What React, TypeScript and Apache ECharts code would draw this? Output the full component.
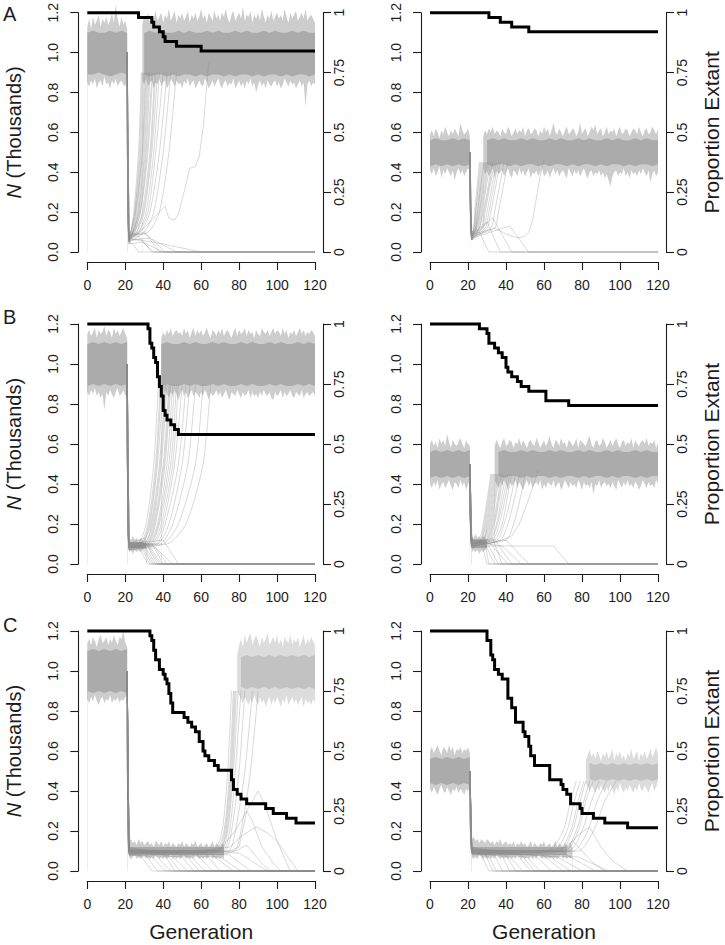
import React, { useEffect, useRef } from "react";
import * as echarts from "echarts";

// ================= DATA (values in hundredths of thousands where noted) =================
// ---- Panel A (left): K = 1.0 ----
const A1_K = 1.0;
const A1_preHi = [113,117,112,118,114,116,119,113,117,115,118,114,116,120,115,124,117,113,118,114,116,112];
const A1_preLo = [85,83,86,84,87,82,85,86,83,88,84,85,82,86,84,87,83,85,86,84,83,87];
const A1_preCoreHi = [110,111,110,110,111,110,111,110];
const A1_preCoreLo = [89,89,90,89,88,89,90,89];
const A1_postHi = [114,118,116,120,115,119,117,121,116,118,120,115,119,117,122,116,118,121,115,119,117,120,116,118,121,115,119,117,120,116,118,122,117,119,115,120,118,116,121,117,119,116,120,118,122,117,115,119,121,116,118,120,117,123,116,119,118,121,115,119,117,120,116,122,118,115,119,117,121,116,118,120,117,119,116,122,118,115,120,117,119,121,116,118,120,117,122,116,118,119,117,115];
const A1_postLo = [86,84,87,83,85,86,82,85,84,87,83,85,86,82,84,87,85,83,86,84,85,82,86,84,87,83,85,86,82,84,86,84,83,87,85,82,84,86,83,85,87,84,82,85,86,83,85,84,87,82,84,86,83,85,82,86,84,87,83,85,80,84,86,83,85,82,86,84,83,85,86,83,85,82,84,87,85,83,86,84,85,82,84,86,83,85,73,84,86,83,85,84];
const A1_postCoreHi = [110,111,110,111,110,110,111,110,111,110,110,111,110,111,110,110,111,110,111,110,110,111,110,111,110,110,111,110,111,110,110];
const A1_postCoreLo = [89,88,89,89,88,89,88,89,89,88,89,88,89,89,88,89,88,89,89,88,89,88,89,89,88,89,88,89,89,88,89];
const A1_fanLevels = [0.1, 0.2, 0.5, 0.9];
const A1_fanN22 = [6,5,8,7,4,9,6,5,7,8,6,10,5,7,8,6,9,7,5,8];
const A1_fanT1 = [23,23,23,23.5,24,23,24,24,24.5,24,25,24,26,25,26,27,27,28,30,32];
const A1_fanT2 = [24.5,25,25,25.5,26,25.5,26.5,27,27,27.5,28,28,29,29.5,30,31,32,33,35,38];
const A1_fanT3 = [27,27.5,28,28.5,29,29,29.5,30,30.5,31,31.5,32,33,33.5,34,35,36,38,40,43];
const A1_fanT4 = [28.5,29,29.5,30,30.5,31,31.5,32,32.5,33,34,34.5,35.5,36,37,38,40,42,44,47];
const A1_extN22 = [5,7,6,8,4,9,6,7];
const A1_extPeakGen = [24,27,28,30,29,31,33,40];
const A1_extPeakN = [4,8,6,10,5,9,7,4];
const A1_extGen = [27,34,35,38,40,41,47,60];
const A1_slowGen = [21,22,26,30,34,38,41,43,46,48,51,54,57,59,61,63,64];
const A1_slowN = [100,7,9,12,16,20,23,17,16,19,30,42,43,48,62,84,95];
const A1_stepGen = [0,27,34,35,38,40,41,47,60,120];
const A1_stepP = [100,98,96,94,92,90,88,86,84,84];

// ---- Panel A (right): K = 0.5 ----
const A2_K = 0.5;
const A2_preHi = [59,61,58,62,60,57,61,59,63,60,58,61,59,62,60,58,65,61,59,60,62,58];
const A2_preLo = [41,39,42,38,40,43,37,41,39,42,40,38,41,36,40,42,39,41,38,40,42,41];
const A2_preCoreHi = [56,57,56,56,57,56,57,56];
const A2_preCoreLo = [43,44,43,44,43,44,43,44];
const A2_postHi = [58,61,59,62,60,63,59,61,60,58,62,60,59,63,61,58,60,62,59,61,60,63,58,61,62,59,60,62,61,58,61,59,63,60,62,58,61,65,60,59,62,60,58,61,63,59,60,62,61,58,60,65,59,61,62,58,60,63,61,64,59,61,62,58,60,63,59,61,60,62,58,61,63,59,60,62,61,58,60,62,61,59,63,60,58,61,62,59,60,63,61,59,62];
const A2_postLo = [42,39,41,38,40,42,37,41,39,40,41,38,40,42,39,37,41,40,38,42,39,41,38,40,42,37,40,39,41,38,40,42,38,39,41,37,40,42,39,41,38,40,41,39,37,42,40,38,41,39,41,38,40,42,39,37,40,41,38,40,39,41,38,40,37,39,36,33,38,40,41,38,40,39,42,38,40,37,41,39,40,38,41,39,42,40,38,41,35,39,41,38,40];
const A2_postCoreHi = [56,57,56,57,56,56,57,56,57,56,56,57,56,57,56,56,57,56,57,56,56,57,56,57,56,56,57,56,57,56,56];
const A2_postCoreLo = [44,43,44,44,43,44,43,44,44,43,44,43,44,44,43,44,43,44,44,43,44,43,44,44,43,44,43,44,44,43,44];
const A2_fanLevels = [0.12, 0.2, 0.35, 0.45];
const A2_fanN22 = [7,6,8,9,6,7,10,8,7,9,6,8,7,10,9,8,7,6,9,8];
const A2_fanT1 = [23,23,23.5,23.5,24,24,24,24.5,24.5,25,25.5,26,26,27,27.5,28,29,30,32,34];
const A2_fanT2 = [23.5,24,24,24.5,25,25,25.5,26,26,26.5,27,27.5,28,28.5,29,30,31,32,34,36];
const A2_fanT3 = [25,25.5,26,26.5,27,27,27.5,28,28.5,29,29.5,30,31,31.5,32,33,34,35,37,39];
const A2_fanT4 = [26,26.5,27,27.5,28,28.5,29,29.5,30,30.5,31,32,32.5,33,34,35,36,37,39,41];
const A2_extN22 = [8,6,9,7];
const A2_extPeakGen = [26,30,33,42];
const A2_extPeakN = [10,15,17,13];
const A2_extGen = [31,37,43,52];
const A2_slowGen = [21,22,28,34,40,46,50,52,54,56,58,60];
const A2_slowN = [50,7,10,12,9,7,8,10,16,27,38,46];
const A2_stepGen = [0,31,37,43,52,120];
const A2_stepP = [100,98,96,94,92,92];

// ---- Panel B (left) ----
const B1_K = 1.0;
const B1_preHi = [115,117,114,116,118,113,117,115,116,119,114,117,116,113,118,115,117,114,116,118,115,113];
const B1_preLo = [86,84,87,85,88,84,86,83,85,77,86,84,87,85,83,86,88,84,85,87,84,86];
const B1_preCoreHi = [110,111,110,111,110,111,110,111];
const B1_preCoreLo = [89,90,89,90,89,90,89,90];
const B1_bnHi = [13,12,14,12,13,11,13,12,11,12];
const B1_bnLo = [6,7,5,7,6,7,6,7,8,7];
const B1_bnCoreHi = [11,11,11,10];
const B1_bnCoreLo = [8,8,8,8];
const B1_postHi = [113,116,114,117,115,118,114,116,117,115,116,114,118,115,117,113,116,118,114,117,115,117,114,116,118,115,113,117,116,114,117,115,118,114,116,117,115,113,116,118,114,117,115,116,118,114,117,115,116,113,117,115,114,118,116,115,117,114,116,118,115,117,116,114,118,115,117,113,116,115,117,114,116,118,115,117,114,116,115,117,116,114];
const B1_postLo = [86,84,87,85,83,86,84,87,85,82,85,87,84,86,83,85,87,84,86,85,83,86,84,87,85,82,86,84,85,87,84,86,83,85,87,84,82,86,85,84,87,85,83,86,84,85,87,83,86,84,85,83,86,84,87,85,84,86,83,82,86,84,85,87,83,86,84,85,87,84,83,86,85,84,87,83,85,86,84,85,86,84];
const B1_postCoreHi = [110,111,110,110,111,110,111,110,110,111,110,111,110,110,111,110,111,110,110,111,110,111,110,110,111,110,111,110];
const B1_postCoreLo = [89,90,89,89,90,89,90,89,89,90,89,90,89,89,90,89,90,89,89,90,89,90,89,89,90,89,90,89];
const B1_fanLevels = [0.1, 0.2, 0.5, 0.9];
const B1_fanN22 = [9,8,10,9,7,11,8,9,10,8,9,7,10,9,8,11,9,10,8,9];
const B1_fanT1 = [27,28,28,29,29,30,30,31,31,32,32,33,33,34,35,36,37,38,40,42];
const B1_fanT2 = [31,32,32.5,33,33.5,34,34.5,35,35.5,36,37,37.5,38,39,40,41,43,45,48,52];
const B1_fanT3 = [35,36,36.5,37,38,38.5,39,40,40.5,41,42,43,44,45,46,48,50,53,57,61];
const B1_fanT4 = [37.5,38.5,39,40,41,41.5,42,43,43.5,44,45,46,47,48,50,52,54,57,61,65];
const B1_extN22 = [9,8,10,7,9,11,8,10,9,8,7,10];
const B1_extPeakGen = [26,28,27,30,29,31,32,30,34,36,35,40];
const B1_extPeakN = [10,9,12,8,11,10,9,13,10,8,9,12];
const B1_extGen = [32,33,34,35,36,37,38,39,40,42,45,48];
const B1_stepGen = [0,32,33,34,35,36,37,38,39,40,41,42,44,46,48,120];
const B1_stepP = [100,98,92,90,86,84,78,74,70,64,62,60,58,56,54,54];

// ---- Panel B (right) ----
const B2_K = 0.5;
const B2_preHi = [60,62,59,61,58,63,60,62,59,65,61,58,62,60,59,61,63,60,58,62,60,59];
const B2_preLo = [40,38,41,39,42,37,40,41,38,40,42,39,37,41,40,38,42,39,41,37,40,42];
const B2_preCoreHi = [56,57,56,57,56,57,56,57];
const B2_preCoreLo = [43,44,43,44,43,44,43,44];
const B2_bnHi = [14,13,15,13,14,12,14,13,12];
const B2_bnLo = [6,7,6,7,5,7,6,7,8];
const B2_bnCoreHi = [12,12,12];
const B2_bnCoreLo = [8,8,8];
const B2_postHi = [59,62,60,58,61,63,59,60,62,61,58,61,60,63,59,62,60,58,61,62,60,59,63,61,58,60,62,59,61,64,60,58,62,61,59,63,60,61,58,62,61,59,60,63,58,62,61,60,59,62,64,60,58,61,62,59,60,63,61,58,60,62,59,61,63,60,58,61,62,59,61,60,63,58,62,60,59,61,62,60,63,59,61,60,62,58,61];
const B2_postLo = [42,40,38,41,39,42,40,37,41,39,40,42,38,41,39,37,40,42,39,41,38,40,41,39,42,37,40,38,41,40,39,42,38,40,41,37,39,42,40,38,41,39,40,38,42,40,37,41,39,40,38,41,35,40,39,42,38,40,41,39,40,38,41,39,37,42,40,38,41,39,42,39,40,38,41,40,37,39,42,40,38,41,39,40,38,42,40];
const B2_postCoreHi = [56,57,56,56,57,56,57,56,56,57,56,57,56,56,57,56,57,56,56,57,56,57,56,56,57,56,57,56,56];
const B2_postCoreLo = [44,43,44,44,43,44,43,44,44,43,44,43,44,44,43,44,43,44,44,43,44,43,44,44,43,44,43,44,44];
const B2_fanLevels = [0.12, 0.2, 0.35, 0.45];
const B2_fanN22 = [9,11,8,10,12,9,10,8,11,10,9,12,10,8,11,9,10,12,9,10];
const B2_fanT1 = [26,26.5,27,27,27.5,28,28,28.5,29,29.5,30,30,31,31.5,32,33,34,35,37,40];
const B2_fanT2 = [28,28.5,29,29.5,30,30.5,31,31.5,32,32.5,33,33.5,34,35,35.5,36.5,38,39,41,44];
const B2_fanT3 = [30.5,31,31.5,32,32.5,33,33.5,34,34.5,35,36,36.5,37,38,39,40,41,43,45,48];
const B2_fanT4 = [32,32.5,33,33.5,34,34.5,35,35.5,36,37,37.5,38,39,40,41,42,43,45,47,50];
const B2_extN22 = [10,9,11,8,10,12,9,11,10,9];
const B2_extPeakGen = [27,29,28,31,33,32,35,38,40,65];
const B2_extPeakN = [11,10,12,9,13,10,11,9,12,9];
const B2_extGen = [30,31,34,36,38,41,43,48,52,73];
const B2_slowGen = [21,22,30,38,43,47,51,55,57];
const B2_slowN = [50,10,10,12,14,20,30,41,47];
const B2_stepGen = [0,26,30,31,34,36,38,40,41,43,46,48,52,61,73,120];
const B2_stepP = [100,98,96,92,90,88,86,82,80,78,76,74,72,68,66,66];

// ---- Panel C (left) ----
const C1_K = 1.0;
const C1_preHi = [114,116,113,117,115,112,116,118,114,115,117,113,116,114,118,115,113,117,116,120,114,112];
const C1_preLo = [86,84,87,85,88,85,83,86,87,84,86,85,88,84,86,85,87,84,86,85,87,88];
const C1_preCoreHi = [110,111,110,111,110,111,110,111];
const C1_preCoreLo = [90,89,90,89,90,89,90,89];
const C1_bnHi = [15,16,14,15,13,16,14,15,13,14,15,13,14,12,15,14,13,15,12,14,13,15,12,14,13,12,14,13,15,12,14,13,12,14,13,15,12,13,14,12,13,14,12,13,15,12,14,13,12,14,13];
const C1_bnLo = [7,6,7,8,6,7,6,7,8,6,7,6,7,6,8,7,6,7,6,7,6,7,8,6,7,6,7,6,7,8,6,7,6,7,6,8,7,6,7,6,7,6,7,8,6,7,6,7,6,7,6];
const C1_bnCoreHi = [12,12,12,12,12,12,12,12,12,12,12];
const C1_bnCoreLo = [8,8,8,8,8,8,8,8,8,8,8];
const C1_postHi = [108,113,116,112,118,114,117,119,113,116,118,115,112,117,114,116,119,113,115,117,114,118,113,116,112,117,115,114,118,113,116,114,117,112,115,118,113,116,114,117,115,113];
const C1_postLo = [90,88,86,84,87,85,83,86,84,88,85,83,87,84,86,82,85,87,83,86,84,87,85,82,86,84,88,83,85,87,84,86,83,85,87,82,86,84,85,83,86,84];
const C1_postCoreHi = [107,108,107,108,107,108,107,108,107,108,107,108,107,108];
const C1_postCoreLo = [92,91,92,91,92,91,92,91,92,91,92,91,92,91];
const C1_fanLevels = [0.1, 0.2, 0.5, 0.9];
const C1_fanN22 = [10,9,11,10,8,12,9,10,11,9];
const C1_fanT1 = [66,67,68,69,69,70,71,72,74,77];
const C1_fanT2 = [71,72,72.5,73,73.5,74,75,76,78,81];
const C1_fanT3 = [74,75,75.5,76,76.5,77,78,80,83,86];
const C1_fanT4 = [76,77,77.5,78,78.5,79.5,81,83,87,90];
const C1_extN22 = [9,10,8,11,9,10,12,9,10,8,11,9,10,9,11,10];
const C1_extPeakGen = [28,30,34,36,40,42,45,48,52,55,58,62,66,70,75,80];
const C1_extPeakN = [8,9,7,8,9,8,7,9,8,7,8,9,8,7,8,9];
const C1_extGen = [34,37,41,44,46,49,53,56,59,62,66,70,77,81,86,95];
const C1_hump1Gen = [21,22,50,70,78,84,90,94,100,106,107];
const C1_hump1N = [100,9,10,11,20,30,40,32,15,2,0];
const C1_hump2Gen = [21,22,60,75,82,89,95,100,105,111];
const C1_hump2N = [100,10,10,12,18,22,19,15,8,0];
const C1_hump3Gen = [21,22,65,75,80,84,87,92,98,102];
const C1_hump3N = [100,10,9,10,12,30,25,12,4,0];
const C1_hump4Gen = [21,22,70,78,84,90,96];
const C1_hump4N = [100,10,8,10,13,6,0];
const C1_stepGen = [0,33,34,35,36,38,40,41,42,43,44,45,51,53,55,57,59,61,62,64,67,69,76,77,79,81,84,94,98,105,110,120];
const C1_stepP = [100,98,96,92,88,84,82,80,78,74,70,66,64,62,60,58,54,50,48,46,44,42,38,34,32,30,28,26,24,22,20,20];

// ---- Panel C (right) ----
const C2_K = 0.5;
const C2_preHi = [60,62,59,61,63,60,58,62,61,59,63,60,62,58,61,60,62,59,61,60,62,59];
const C2_preLo = [41,39,42,40,38,41,43,40,39,42,40,38,41,40,42,39,41,40,38,41,40,42];
const C2_preCoreHi = [56,57,56,57,56,57,56,57];
const C2_preCoreLo = [44,43,44,43,44,43,44,43];
const C2_bnHi = [16,17,15,16,14,16,15,14,16,15,14,15,13,15,14,16,13,14,15,13,14,13,15,12,14,13,15,13,14,12,13,15,12,14,13,12,14,13,15,12,13,14,12,13,15,12,14,13,12,14,13,12,14,12];
const C2_bnLo = [7,6,7,6,8,7,6,7,6,7,6,7,6,8,7,6,7,6,7,6,7,6,7,6,8,7,6,7,6,7,6,7,6,7,6,8,7,6,7,6,7,6,7,6,7,6,7,8,6,7,6,7,6,7];
const C2_bnCoreHi = [12,12,12,12,12,12,12,12,12,12,12];
const C2_bnCoreLo = [8,8,8,8,8,8,8,8,8,8,8];
const C2_postHi = [55,58,61,57,59,56,60,58,55,59,57,60,56,58,61,55,59,57,60,56,58,55,59,57,61,56,58,60,55,59,57,60,56,58,61,57,59,62,58];
const C2_postLo = [44,42,40,43,41,39,42,40,43,41,39,42,40,43,41,38,42,40,44,41,39,42,40,43,41,39,42,40,44,41,40,43,41,39,42,44,40,42,45];
const C2_postCoreHi = [54,53,54,53,54,53,54,53,54,53,54,53,54];
const C2_postCoreLo = [46,45,46,45,46,45,46,45,46,45,46,45,46];
const C2_fanLevels = [0.1, 0.2, 0.35, 0.45];
const C2_fanN22 = [10,9,11,10,12,9,10,11,9];
const C2_fanT1 = [62,65,67,68,70,71,73,75,78];
const C2_fanT2 = [70,72,74,75,77,78,80,83,86];
const C2_fanT3 = [74,76,78,79,81,82,85,88,92];
const C2_fanT4 = [77,79,81,82,84,86,89,93,98];
const C2_extN22 = [10,9,11,8,10,12,9,11,10,9,11,10,9,10,11,9];
const C2_extPeakGen = [27,29,31,34,37,40,42,45,48,51,55,58,62,67,72,78];
const C2_extPeakN = [8,9,7,8,9,8,7,9,8,7,8,9,8,7,8,7];
const C2_extGen = [31,33,35,38,42,45,49,53,55,58,64,70,74,80,87,94];
const C2_hump1Gen = [21,22,60,72,78,84,90,96,104];
const C2_hump1N = [50,10,10,12,18,22,12,5,0];
const C2_hump2Gen = [21,22,55,68,75,80,86,92];
const C2_hump2N = [50,9,9,10,15,10,4,0];
const C2_stepGen = [0,30,32,33,34,36,38,41,43,45,49,50,52,53,55,63,69,70,72,74,79,80,86,92,104,120];
const C2_stepP = [100,96,90,88,84,82,80,72,68,62,58,56,52,48,44,38,36,34,32,28,26,24,22,20,18,18];

const X_TICKS_MAX = 120;
const N_MAX = 1.2;
const P_MAX = 1;

// ================= BUILDERS =================
const seq = (x0: number, step: number, vals: number[]) => vals.map((v, i) => [x0 + i * step, v / 100]);
const pairs = (xs: number[], ys: number[]) => xs.map((x, i) => [x, ys[i] / 100]);

type Band = { x0: number; hi: number[]; lo: number[]; cx0: number; cstep: number; chi: number[]; clo: number[]; light: string; dark: string };
type Panel = {
  K: number;
  bands: Band[];
  fan: { n22: number[]; t: number[][]; levels: number[] };
  ext: { n22: number[]; pg: number[]; pn: number[]; eg: number[] };
  extra: [number[], number[]][];
  step: [number[], number[]];
};

const LIGHT = "#cdcdcd";
const DARK = "#ababab";
const LIGHT_C = "#dcdcdc";
const DARK_C = "#c2c2c2";

const panels: Panel[] = [
  {
    K: A1_K,
    bands: [
      { x0: 0, hi: A1_preHi, lo: A1_preLo, cx0: 0, cstep: 3, chi: A1_preCoreHi, clo: A1_preCoreLo, light: LIGHT, dark: DARK },
      { x0: 29, hi: A1_postHi, lo: A1_postLo, cx0: 30, cstep: 3, chi: A1_postCoreHi, clo: A1_postCoreLo, light: LIGHT, dark: DARK },
    ],
    fan: { n22: A1_fanN22, t: [A1_fanT1, A1_fanT2, A1_fanT3, A1_fanT4], levels: A1_fanLevels },
    ext: { n22: A1_extN22, pg: A1_extPeakGen, pn: A1_extPeakN, eg: A1_extGen },
    extra: [[A1_slowGen, A1_slowN]],
    step: [A1_stepGen, A1_stepP],
  },
  {
    K: A2_K,
    bands: [
      { x0: 0, hi: A2_preHi, lo: A2_preLo, cx0: 0, cstep: 3, chi: A2_preCoreHi, clo: A2_preCoreLo, light: LIGHT, dark: DARK },
      { x0: 28, hi: A2_postHi, lo: A2_postLo, cx0: 30, cstep: 3, chi: A2_postCoreHi, clo: A2_postCoreLo, light: LIGHT, dark: DARK },
    ],
    fan: { n22: A2_fanN22, t: [A2_fanT1, A2_fanT2, A2_fanT3, A2_fanT4], levels: A2_fanLevels },
    ext: { n22: A2_extN22, pg: A2_extPeakGen, pn: A2_extPeakN, eg: A2_extGen },
    extra: [[A2_slowGen, A2_slowN]],
    step: [A2_stepGen, A2_stepP],
  },
  {
    K: B1_K,
    bands: [
      { x0: 0, hi: B1_preHi, lo: B1_preLo, cx0: 0, cstep: 3, chi: B1_preCoreHi, clo: B1_preCoreLo, light: LIGHT, dark: DARK },
      { x0: 22, hi: B1_bnHi, lo: B1_bnLo, cx0: 22, cstep: 3, chi: B1_bnCoreHi, clo: B1_bnCoreLo, light: LIGHT, dark: DARK },
      { x0: 39, hi: B1_postHi, lo: B1_postLo, cx0: 39, cstep: 3, chi: B1_postCoreHi, clo: B1_postCoreLo, light: LIGHT, dark: DARK },
    ],
    fan: { n22: B1_fanN22, t: [B1_fanT1, B1_fanT2, B1_fanT3, B1_fanT4], levels: B1_fanLevels },
    ext: { n22: B1_extN22, pg: B1_extPeakGen, pn: B1_extPeakN, eg: B1_extGen },
    extra: [],
    step: [B1_stepGen, B1_stepP],
  },
  {
    K: B2_K,
    bands: [
      { x0: 0, hi: B2_preHi, lo: B2_preLo, cx0: 0, cstep: 3, chi: B2_preCoreHi, clo: B2_preCoreLo, light: LIGHT, dark: DARK },
      { x0: 22, hi: B2_bnHi, lo: B2_bnLo, cx0: 22, cstep: 4, chi: B2_bnCoreHi, clo: B2_bnCoreLo, light: LIGHT, dark: DARK },
      { x0: 34, hi: B2_postHi, lo: B2_postLo, cx0: 36, cstep: 3, chi: B2_postCoreHi, clo: B2_postCoreLo, light: LIGHT, dark: DARK },
    ],
    fan: { n22: B2_fanN22, t: [B2_fanT1, B2_fanT2, B2_fanT3, B2_fanT4], levels: B2_fanLevels },
    ext: { n22: B2_extN22, pg: B2_extPeakGen, pn: B2_extPeakN, eg: B2_extGen },
    extra: [[B2_slowGen, B2_slowN]],
    step: [B2_stepGen, B2_stepP],
  },
  {
    K: C1_K,
    bands: [
      { x0: 0, hi: C1_preHi, lo: C1_preLo, cx0: 0, cstep: 3, chi: C1_preCoreHi, clo: C1_preCoreLo, light: LIGHT, dark: DARK },
      { x0: 22, hi: C1_bnHi, lo: C1_bnLo, cx0: 22, cstep: 5, chi: C1_bnCoreHi, clo: C1_bnCoreLo, light: LIGHT, dark: DARK },
      { x0: 79, hi: C1_postHi, lo: C1_postLo, cx0: 81, cstep: 3, chi: C1_postCoreHi, clo: C1_postCoreLo, light: LIGHT_C, dark: DARK_C },
    ],
    fan: { n22: C1_fanN22, t: [C1_fanT1, C1_fanT2, C1_fanT3, C1_fanT4], levels: C1_fanLevels },
    ext: { n22: C1_extN22, pg: C1_extPeakGen, pn: C1_extPeakN, eg: C1_extGen },
    extra: [[C1_hump1Gen, C1_hump1N], [C1_hump2Gen, C1_hump2N], [C1_hump3Gen, C1_hump3N], [C1_hump4Gen, C1_hump4N]],
    step: [C1_stepGen, C1_stepP],
  },
  {
    K: C2_K,
    bands: [
      { x0: 0, hi: C2_preHi, lo: C2_preLo, cx0: 0, cstep: 3, chi: C2_preCoreHi, clo: C2_preCoreLo, light: LIGHT, dark: DARK },
      { x0: 22, hi: C2_bnHi, lo: C2_bnLo, cx0: 22, cstep: 5, chi: C2_bnCoreHi, clo: C2_bnCoreLo, light: LIGHT, dark: DARK },
      { x0: 82, hi: C2_postHi, lo: C2_postLo, cx0: 84, cstep: 3, chi: C2_postCoreHi, clo: C2_postCoreLo, light: LIGHT_C, dark: DARK_C },
    ],
    fan: { n22: C2_fanN22, t: [C2_fanT1, C2_fanT2, C2_fanT3, C2_fanT4], levels: C2_fanLevels },
    ext: { n22: C2_extN22, pg: C2_extPeakGen, pn: C2_extPeakN, eg: C2_extGen },
    extra: [[C2_hump1Gen, C2_hump1N], [C2_hump2Gen, C2_hump2N]],
    step: [C2_stepGen, C2_stepP],
  },
];

// ================= LAYOUT =================
const COL_LEFT = [87.3, 430];
const COL_WIDTH = [227.7, 228];
const ROW_TOP = [12, 324, 631];
const ROW_H = 240;
const FONT = "'Liberation Sans', Arial, Helvetica, sans-serif";
const INK = "#1c1c1c";
const THIN = "rgba(140,140,140,0.33)";

function buildOption() {
  const grids: any[] = [];
  const xAxes: any[] = [];
  const yAxes: any[] = [];
  const series: any[] = [];
  const axisLine = { show: true, onZero: false, lineStyle: { color: INK, width: 1.1 } };
  const axisTick = { show: true, length: 8, lineStyle: { color: INK, width: 1.1 } };

  panels.forEach((p, gi) => {
    const col = gi % 2;
    const row = Math.floor(gi / 2);
    grids.push({ left: COL_LEFT[col], top: ROW_TOP[row], width: COL_WIDTH[col], height: ROW_H, containLabel: false });
    xAxes.push({
      type: "value", gridIndex: gi, min: 0, max: X_TICKS_MAX, interval: 20, offset: 10,
      axisLine, axisTick, splitLine: { show: false },
      axisLabel: { fontSize: 14, color: INK, margin: 16, fontFamily: FONT, showMinLabel: true, showMaxLabel: true },
      name: row === 2 ? "Generation" : "", nameLocation: "middle", nameGap: 40,
      nameTextStyle: { fontSize: 21, color: INK, fontFamily: FONT },
    });
    yAxes.push({
      type: "value", gridIndex: gi, position: "left", min: 0, max: N_MAX, interval: 0.2, offset: 9,
      axisLine, axisTick, splitLine: { show: false },
      axisLabel: { rotate: 90, fontSize: 14, color: INK, margin: 18, fontFamily: FONT, showMinLabel: true, showMaxLabel: true, formatter: (v: number) => v.toFixed(1) },
      name: col === 0 ? "{i|N} (Thousands)" : "", nameLocation: "middle", nameRotate: 90, nameGap: 54,
      nameTextStyle: { fontSize: 20, color: INK, fontFamily: FONT, rich: { i: { fontStyle: "italic", fontSize: 20, color: INK, fontFamily: FONT } } },
    });
    yAxes.push({
      type: "value", gridIndex: gi, position: "right", min: 0, max: P_MAX, interval: 0.25, offset: 8,
      axisLine, axisTick, splitLine: { show: false },
      axisLabel: { rotate: 90, fontSize: 14, color: INK, margin: 9, fontFamily: FONT, showMinLabel: true, showMaxLabel: true, formatter: (v: number) => String(+v.toFixed(2)) },
      name: col === 1 ? "Proportion Extant" : "", nameLocation: "middle", nameRotate: 90, nameGap: 35,
      nameTextStyle: { fontSize: 21, color: INK, fontFamily: FONT },
    });

    const base = { type: "line", xAxisIndex: gi, yAxisIndex: gi * 2, symbol: "none", silent: true, clip: false, animation: false };
    const area = (data: number[][], color: string) => ({
      ...base, data, lineStyle: { width: 0, opacity: 0 }, areaStyle: { color, opacity: 1, origin: "start" }, z: 2,
    });
    p.bands.forEach((b) => {
      series.push(area(seq(b.x0, 1, b.hi), b.light));
      series.push(area(seq(b.cx0, b.cstep, b.chi), b.dark));
      series.push(area(seq(b.cx0, b.cstep, b.clo), b.light));
      series.push(area(seq(b.x0, 1, b.lo), "#ffffff"));
    });
    const thin = (data: number[][], smooth = 0) => ({
      ...base, data, smooth, lineStyle: { color: THIN, width: 1 }, z: 3,
    });
    p.fan.n22.forEach((n, i) => {
      const d: number[][] = [[21, p.K], [22, n / 100]];
      p.fan.t.forEach((ts, li) => d.push([ts[i], p.fan.levels[li]]));
      series.push(thin(d, 0.25));
    });
    p.ext.n22.forEach((n, i) => {
      series.push(thin([[21, p.K], [22, n / 100], [p.ext.pg[i], p.ext.pn[i] / 100], [p.ext.eg[i], 0], [X_TICKS_MAX, 0]]));
    });
    p.extra.forEach(([gs, ns]) => {
      const d = pairs(gs, ns);
      if (ns[ns.length - 1] === 0) d.push([X_TICKS_MAX, 0]);
      series.push(thin(d));
    });
    series.push({
      type: "line", xAxisIndex: gi, yAxisIndex: gi * 2 + 1, symbol: "none", silent: true, clip: false, step: "end",
      data: pairs(p.step[0], p.step[1]), lineStyle: { color: "#000", width: 3, join: "miter" }, z: 5,
    });
  });

  const letter = (t: string, top: number) => ({ type: "text", left: 3, top, style: { text: t, fontSize: 20, fill: INK, fontFamily: FONT } });

  return {
    animation: false,
    backgroundColor: "#ffffff",
    grid: grids,
    xAxis: xAxes,
    yAxis: yAxes,
    series,
    graphic: [letter("A", 4), letter("B", 307), letter("C", 615)],
  };
}

export default function App() {
  const ref = useRef<HTMLDivElement>(null);
  useEffect(() => {
    if (!ref.current) return;
    const chart = echarts.init(ref.current, undefined, { renderer: "svg" });
    chart.setOption(buildOption() as any);
    return () => chart.dispose();
  }, []);
  return <div ref={ref} style={{ position: "absolute", left: 0, top: 0, width: 725, height: 945, background: "#fff" }} />;
}
